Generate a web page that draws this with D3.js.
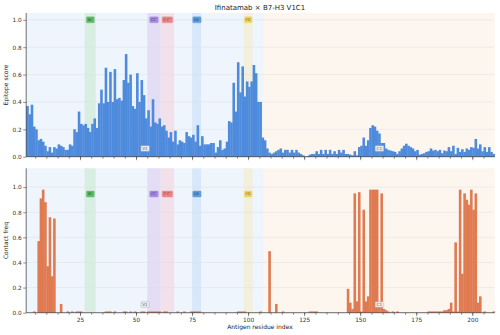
<!DOCTYPE html>
<html>
<head>
<meta charset="utf-8">
<script src="https://cdn.jsdelivr.net/npm/d3@7"></script>
<style>
  body { margin: 0; background: #fff; }
  svg { display: block; font-family: "DejaVu Sans", sans-serif; }
</style>
</head>
<body>
<div id="chart"></div>
<script>
// residues 1..209 of the antigen
var residues = d3.range(1, 210);

var epitope = [
  0.37, 0.31, 0.38, 0.22, 0.20, 0.12, 0.13, 0.11, 0.08, 0.04,
  0.07, 0.03, 0.07, 0.06, 0.09, 0.08, 0.07, 0.05, 0.05, 0.09,
  0.08, 0.20, 0.18, 0.33, 0.24, 0.23, 0.24, 0.21, 0.18, 0.24,
  0.28, 0.21, 0.39, 0.49, 0.39, 0.65, 0.40, 0.62, 0.40, 0.64,
  0.42, 0.43, 0.41, 0.56, 0.75, 0.54, 0.60, 0.37, 0.35, 0.61,
  0.40, 0.56, 0.45, 0.28, 0.34, 0.22, 0.42, 0.25, 0.24, 0.28,
  0.22, 0.23, 0.19, 0.14, 0.18, 0.11, 0.19, 0.09, 0.12, 0.11,
  0.10, 0.18, 0.15, 0.14, 0.16, 0.11, 0.23, 0.08, 0.15, 0.09,
  0.09, 0.09, 0.10, 0.10, 0.03, 0.07, 0.12, 0.05, 0.06, 0.11,
  0.26, 0.25, 0.54, 0.33, 0.69, 0.47, 0.66, 0.44, 0.55, 0.51,
  0.55, 0.67, 0.61, 0.40, 0.40, 0.14, 0.12, 0.06, 0.03, 0.02,
  0.03, 0.04, 0.05, 0.06, 0.03, 0.05, 0.05, 0.03, 0.05, 0.03,
  0.05, 0.03, 0.02, 0.01, 0.00, 0.005, 0.015, 0.02, 0.02, 0.04,
  0.02, 0.05, 0.02, 0.05, 0.02, 0.05, 0.02, 0.04, 0.02, 0.05,
  0.03, 0.05, 0.02, 0.02, 0.015, 0.01, 0.04, 0.01, 0.07, 0.08,
  0.14, 0.08, 0.12, 0.21, 0.23, 0.22, 0.19, 0.17, 0.10, 0.10,
  0.06, 0.05, 0.045, 0.04, 0.035, 0.02, 0.04, 0.06, 0.08, 0.095,
  0.08, 0.07, 0.06, 0.04, 0.05, 0.015, 0.02, 0.025, 0.035, 0.04,
  0.06, 0.045, 0.05, 0.04, 0.05, 0.025, 0.045, 0.04, 0.07, 0.04,
  0.08, 0.02, 0.065, 0.035, 0.055, 0.035, 0.06, 0.05, 0.07, 0.065,
  0.13, 0.06, 0.09, 0.04, 0.07, 0.035, 0.07, 0.035, 0.02
];

var contact = [
  0, 0, 0, 0.01, 0, 0.57, 0.91, 0.98, 0.88, 0.37,
  0.76, 0.29, 0.75, 0, 0, 0.07, 0, 0, 0.01, 0,
  0.01, 0, 0.01, 0.01, 0.01, 0, 0, 0, 0, 0,
  0, 0, 0, 0, 0, 0.01, 0.01, 0.01, 0, 0.01,
  0, 0, 0, 0.01, 0.01, 0, 0.01, 0, 0.01, 0,
  0, 0.01, 0.01, 0, 0.01, 0.01, 0.01, 0.01, 0.01, 0.01,
  0, 0.01, 0.01, 0, 0, 0, 0, 0.01, 0, 0,
  0.01, 0, 0, 0.01, 0.01, 0.01, 0.01, 0.01, 0, 0,
  0, 0, 0, 0, 0, 0, 0, 0, 0, 0,
  0, 0, 0, 0, 0.01, 0.01, 0.01, 0.01, 0, 0,
  0, 0, 0, 0, 0.01, 0, 0, 0, 0.49, 0,
  0, 0.07, 0, 0, 0.01, 0, 0, 0, 0, 0,
  0, 0, 0, 0, 0, 0, 0.01, 0.01, 0.01, 0.01,
  0, 0, 0, 0, 0, 0, 0, 0, 0, 0,
  0, 0, 0, 0.19, 0.08, 0.03, 0.95, 0.09, 0.96, 0.01,
  0.82, 0.09, 0.13, 0.98, 0.98, 0.98, 0.98, 0.08, 0.95, 0.03,
  0.02, 0.01, 0, 0.01, 0, 0.01, 0, 0, 0, 0,
  0, 0, 0, 0, 0, 0, 0, 0, 0, 0.01,
  0.01, 0.01, 0.01, 0.01, 0.01, 0.01, 0.02, 0.02, 0.03, 0.08,
  0.01, 0.56, 0.01, 0.98, 0.31, 0.95, 0.90, 0.86, 0.98, 0.82,
  0.95, 0.08, 0.13, 0, 0.01, 0, 0, 0, 0.01
];

var loopNames = ["BC", "CC'", "C'C''", "DE", "FG"];
var loopStart = [27, 55, 61, 75, 98];
var loopEnd = [32, 61, 67, 79, 102];

var domainNames = ["V1", "C1"];
var domainStart = [1, 107];
var domainEnd = [107, 210];

var yTicks = [0, 0.2, 0.4, 0.6, 0.8, 1.0];
var xTicks = [25, 50, 75, 100, 125, 150, 175, 200];
var xMinor = d3.range(5, 210, 5);

var loopFill = d3.scaleOrdinal().domain(loopNames)
  .range(["#d9eee3", "#e4ddf6", "#f2e0ea", "#d7e8fa", "#f2f0dc"]);
var loopBox = d3.scaleOrdinal().domain(loopNames)
  .range(["#63bb6d", "#a88be0", "#e58a8a", "#5f9ddb", "#efd35e"]);
var loopText = d3.scaleOrdinal().domain(loopNames)
  .range(["#1d5c22", "#4a2a88", "#8a1c1c", "#133f70", "#6b5600"]);
var domainFill = d3.scaleOrdinal().domain(domainNames)
  .range(["#eef5fd", "#fdf6ef"]);

var width = 500, height = 335;
var x = d3.scaleLinear().domain([1, 210]).range([26.2, 494.7]);

var svg = d3.select("#chart").append("svg")
  .attr("width", width)
  .attr("height", height);

svg.append("text")
  .attr("x", 260).attr("y", 9.5)
  .attr("text-anchor", "middle")
  .style("font-size", "7px")
  .style("fill", "#222")
  .text("Ifinatamab \u00d7 B7-H3 V1C1");

function drawPanel(values, y, color, yLabel, showLabels, loopLabelVal, domLabelVal) {
  var g = svg.append("g");
  var y0 = y(0), yTop = y.range()[1];

  // domain shading
  g.selectAll(".dom").data(domainNames).enter().append("rect")
    .attr("x", function (d, i) { return x(domainStart[i]); })
    .attr("width", function (d, i) { return x(domainEnd[i]) - x(domainStart[i]); })
    .attr("y", yTop).attr("height", y0 - yTop)
    .style("fill", function (d) { return domainFill(d); });

  // loop bands
  g.selectAll(".loop").data(loopNames).enter().append("rect")
    .attr("x", function (d, i) { return x(loopStart[i]); })
    .attr("width", function (d, i) { return x(loopEnd[i]) - x(loopStart[i]); })
    .attr("y", yTop).attr("height", y0 - yTop)
    .style("fill", function (d) { return loopFill(d); });

  // grid
  g.selectAll(".grid").data(yTicks).enter().append("line")
    .attr("x1", x(1)).attr("x2", x(210))
    .attr("y1", function (d) { return y(d); })
    .attr("y2", function (d) { return y(d); })
    .style("stroke", "#dedede").style("stroke-width", 0.5);

  // bars (slight overlap so neighbours read as one solid mass)
  g.append("g").selectAll("rect").data(residues).enter().append("rect")
    .attr("x", function (d) { return x(d); })
    .attr("width", function (d) { return x(d + 1) - x(d) + 0.35; })
    .attr("y", function (d, i) { return y(values[i]); })
    .attr("height", function (d, i) { return y0 - y(values[i]); })
    .style("fill", color);

  // loop labels
  var lg = g.selectAll(".ll").data(loopNames).enter().append("g")
    .attr("transform", function (d, i) {
      return "translate(" + x((loopStart[i] + loopEnd[i]) / 2) + "," + y(loopLabelVal) + ")";
    });
  lg.append("text")
    .attr("text-anchor", "middle").attr("dy", "0.35em")
    .style("font-size", "3.6px")
    .style("fill", function (d) { return loopText(d); })
    .text(function (d) { return d; })
    .each(function (d) {
      var b = this.getBBox();
      d3.select(this.parentNode).insert("rect", "text")
        .attr("x", b.x - 1.3).attr("y", -3)
        .attr("width", b.width + 2.6).attr("height", 6)
        .attr("rx", 0.8)
        .style("fill", loopBox(d))
        .style("stroke", loopBox(d))
        .style("stroke-width", 0.4);
    });

  // domain labels
  var dg = g.selectAll(".dl").data(domainNames).enter().append("g")
    .attr("transform", function (d, i) {
      return "translate(" + x((domainStart[i] + domainEnd[i]) / 2) + "," + y(domLabelVal) + ")";
    });
  dg.append("text")
    .attr("text-anchor", "middle").attr("dy", "0.35em")
    .style("font-size", "4.2px")
    .style("fill", "#666")
    .text(function (d) { return d; })
    .each(function () {
      var b = this.getBBox();
      d3.select(this.parentNode).insert("rect", "text")
        .attr("x", b.x - 1.3).attr("y", -2.8)
        .attr("width", b.width + 2.6).attr("height", 5.6)
        .attr("rx", 0.6)
        .style("fill", "#ececf0")
        .style("stroke", "#aaa")
        .style("stroke-width", 0.4);
    });

  // axes
  var ax = g.append("g")
    .attr("transform", "translate(0," + y0 + ")")
    .call(d3.axisBottom(x).tickValues(xMinor).tickSize(2).tickFormat(""));
  ax.select(".domain").remove();
  ax.selectAll("line").style("stroke", "#444").style("stroke-width", 0.6);

  var axMajor = g.append("g")
    .attr("transform", "translate(0," + y0 + ")")
    .call(d3.axisBottom(x).tickValues(xTicks).tickSize(3.5).tickPadding(1.5)
      .tickFormat(showLabels ? d3.format("d") : ""));
  axMajor.select(".domain").remove();
  axMajor.selectAll("line").style("stroke", "#444").style("stroke-width", 0.6);
  axMajor.selectAll("text").style("font-size", "5.8px").style("fill", "#333")
    .style("font-family", "DejaVu Sans");

  var ay = g.append("g")
    .attr("transform", "translate(" + x(1) + ",0)")
    .call(d3.axisLeft(y).tickValues(yTicks).tickSize(3).tickPadding(1.5)
      .tickFormat(d3.format(".1f")));
  ay.select(".domain").remove();
  ay.selectAll("line").style("stroke", "#444").style("stroke-width", 0.6);
  ay.selectAll("text").style("font-size", "5.8px").style("fill", "#333")
    .style("font-family", "DejaVu Sans");

  // spines
  g.append("line").attr("x1", x(1)).attr("x2", x(1))
    .attr("y1", yTop).attr("y2", y0)
    .style("stroke", "#333").style("stroke-width", 0.7);
  g.append("line").attr("x1", x(1)).attr("x2", x(210))
    .attr("y1", y0).attr("y2", y0)
    .style("stroke", "#333").style("stroke-width", 0.7);

  svg.append("text")
    .attr("transform", "translate(8," + (yTop + y0) / 2 + ") rotate(-90)")
    .attr("text-anchor", "middle")
    .style("font-size", "6px")
    .style("fill", "#222")
    .text(yLabel);
}

var yEp = d3.scaleLinear().domain([0, 1.05]).range([156.7, 13]);
var yCo = d3.scaleLinear().domain([0, 1.15]).range([312.7, 168.3]);

drawPanel(epitope, yEp, "#4f8bdc", "Epitope score", false, 1.0, 0.06);
drawPanel(contact, yCo, "#e07a50", "Contact freq", true, 0.945, 0.065);

svg.append("text")
  .attr("x", 260).attr("y", 329)
  .attr("text-anchor", "middle")
  .style("font-size", "6px")
  .style("fill", "#222")
  .text("Antigen residue index");
</script>
</body>
</html>
